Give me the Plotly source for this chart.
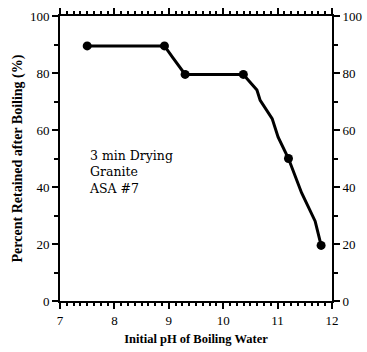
import plotly.graph_objects as go

# measured points (markers)
ph_points = [7.5, 8.92, 9.3, 10.37, 11.2, 11.8]
retained_points = [89.5, 89.5, 79.5, 79.5, 50, 19.5]

# line path (includes bends between markers)
ph_line = [7.5, 8.92, 9.08, 9.3, 10.37, 10.62, 10.68, 10.9, 11.01, 11.2, 11.44, 11.69, 11.8]
retained_line = [89.5, 89.5, 85.2, 79.5, 79.5, 74, 70.4, 64, 57.5, 50, 38, 28, 19.5]

x_ticks = [7, 8, 9, 10, 11, 12]
y_ticks = [0, 20, 40, 60, 80, 100]

FONT = "Liberation Serif"
BLACK = "#000000"

fig = go.Figure()
fig.add_trace(go.Scatter(x=ph_line, y=retained_line, mode="lines",
                         line=dict(color=BLACK, width=3), showlegend=False, hoverinfo="skip"))
fig.add_trace(go.Scatter(x=ph_points, y=retained_points, mode="markers",
                         marker=dict(color=BLACK, size=9), showlegend=False))
# invisible trace to anchor mirrored axes
fig.add_trace(go.Scatter(x=ph_points, y=retained_points, mode="markers",
                         marker=dict(opacity=0), xaxis="x2", yaxis="y2",
                         showlegend=False, hoverinfo="skip"))

fig.add_annotation(x=7.5, y=54.5, xref="x", yref="y", xanchor="left", yanchor="top",
                   text="3 min Drying<br>Granite<br>ASA #7", showarrow=False, align="left",
                   font=dict(family="DejaVu Serif", size=12.5, color=BLACK))

axis_common = dict(showline=True, linecolor=BLACK, linewidth=2, ticks="outside",
                   ticklen=6, tickwidth=2, tickcolor=BLACK, showgrid=False, zeroline=False,
                   automargin=False,
                   tickfont=dict(family=FONT, size=13, color=BLACK))

fig.update_layout(
    width=367, height=352,
    margin=dict(l=60, r=35, t=16, b=51),
    paper_bgcolor="white", plot_bgcolor="white",
    xaxis=dict(range=[7, 12], tickvals=x_ticks, ticktext=[str(v) for v in x_ticks],
               minor=dict(dtick=0.125, tick0=7, ticks="outside", ticklen=3, tickwidth=2, tickcolor=BLACK),
               title=dict(text="<b>Initial pH of Boiling Water</b>", standoff=8,
                          font=dict(family=FONT, size=12.5, color=BLACK)),
               **axis_common),
    xaxis2=dict(range=[7, 12], overlaying="x", side="top", tickvals=x_ticks, showticklabels=False,
                minor=dict(dtick=0.125, tick0=7, ticks="outside", ticklen=3, tickwidth=2, tickcolor=BLACK),
                **axis_common),
    yaxis=dict(range=[0, 100], tickvals=y_ticks, ticktext=[str(v) for v in y_ticks],
               minor=dict(dtick=10, tick0=0, ticks="outside", ticklen=4, tickwidth=2, tickcolor=BLACK),
               title=dict(text="<b>Percent Retained after Boiling (%)</b>", standoff=4,
                          font=dict(family=FONT, size=14, color=BLACK)),
               **axis_common),
    yaxis2=dict(range=[0, 100], overlaying="y", side="right", tickvals=y_ticks,
                ticktext=[str(v) for v in y_ticks],
                minor=dict(dtick=10, tick0=0, ticks="outside", ticklen=4, tickwidth=2, tickcolor=BLACK),
                **axis_common),
)

fig.write_html("out.html")
